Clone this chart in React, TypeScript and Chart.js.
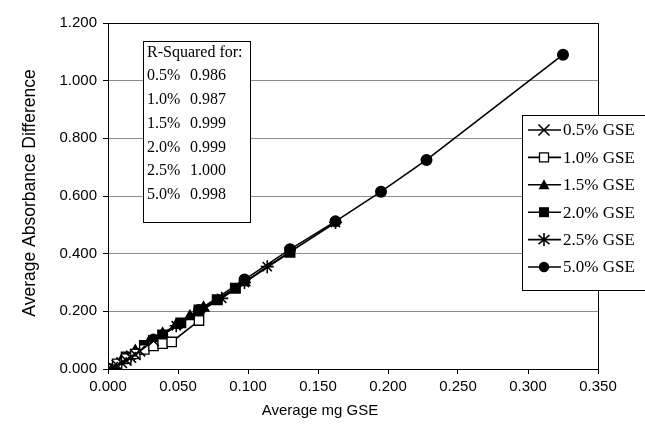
import React, { useEffect, useRef } from 'react';
import { Chart, registerables } from 'chart.js';

Chart.register(...registerables);

// ---- Data ----
const seriesLabels = ['0.5% GSE', '1.0% GSE', '1.5% GSE', '2.0% GSE', '2.5% GSE', '5.0% GSE'];
const seriesMarkers = ['crossRot', 'rectOpen', 'triangle', 'rect', 'star', 'circle'];

const x05 = [0, 0.00325, 0.0065, 0.00975, 0.013, 0.01625, 0.0195, 0.02275, 0.0325];
const y05 = [0, 0.006, 0.013, 0.022, 0.030, 0.040, 0.050, 0.062, 0.098];

const x10 = [0, 0.0065, 0.013, 0.0195, 0.026, 0.0325, 0.039, 0.0455, 0.065];
const y10 = [0, 0.018, 0.036, 0.052, 0.068, 0.080, 0.088, 0.094, 0.168];

const x15 = [0, 0.00975, 0.0195, 0.02925, 0.039, 0.04875, 0.0585, 0.06825, 0.0975];
const y15 = [0, 0.030, 0.062, 0.092, 0.122, 0.152, 0.182, 0.212, 0.300];

const x20 = [0, 0.013, 0.026, 0.039, 0.052, 0.065, 0.078, 0.091, 0.13];
const y20 = [0, 0.042, 0.082, 0.118, 0.160, 0.205, 0.240, 0.280, 0.405];

const x25 = [0, 0.01625, 0.0325, 0.04875, 0.065, 0.08125, 0.0975, 0.11375, 0.1625];
const y25 = [0, 0.048, 0.098, 0.150, 0.198, 0.245, 0.300, 0.355, 0.508];

const x50 = [0, 0.0325, 0.065, 0.0975, 0.13, 0.1625, 0.195, 0.2275, 0.325];
const y50 = [0, 0.102, 0.205, 0.310, 0.415, 0.512, 0.615, 0.725, 1.09];

const seriesX = [x05, x10, x15, x20, x25, x50];
const seriesY = [y05, y10, y15, y20, y25, y50];

const rSquaredTitle = 'R-Squared for:';
const rSquaredLabels = ['0.5%', '1.0%', '1.5%', '2.0%', '2.5%', '5.0%'];
const rSquaredValues = ['0.986', '0.987', '0.999', '0.999', '1.000', '0.998'];

const xAxisTitle = 'Average mg GSE';
const yAxisTitle = 'Average Absorbance Difference';

const SANS = '"Liberation Sans", Arial, sans-serif';
const SERIF = '"Liberation Serif", "Times New Roman", serif';

// ---- Drawing helpers ----
function drawMarker(ctx: CanvasRenderingContext2D, style: string, x: number, y: number) {
  ctx.save();
  ctx.strokeStyle = '#000';
  ctx.fillStyle = '#000';
  ctx.lineWidth = 1.6;
  ctx.beginPath();
  switch (style) {
    case 'crossRot':
      ctx.moveTo(x - 5.5, y - 5.5); ctx.lineTo(x + 5.5, y + 5.5);
      ctx.moveTo(x + 5.5, y - 5.5); ctx.lineTo(x - 5.5, y + 5.5);
      ctx.stroke();
      break;
    case 'rectOpen':
      ctx.fillStyle = '#fff';
      ctx.fillRect(x - 4.5, y - 4.5, 9, 9);
      ctx.lineWidth = 1.3;
      ctx.strokeRect(x - 4.5, y - 4.5, 9, 9);
      break;
    case 'triangle':
      ctx.moveTo(x, y - 5.5); ctx.lineTo(x + 5.5, y + 4.5); ctx.lineTo(x - 5.5, y + 4.5); ctx.closePath();
      ctx.fill();
      break;
    case 'rect':
      ctx.fillRect(x - 5, y - 5, 10, 10);
      break;
    case 'star':
      ctx.moveTo(x, y - 6.5); ctx.lineTo(x, y + 6.5);
      ctx.moveTo(x - 5.5, y - 4.5); ctx.lineTo(x + 5.5, y + 4.5);
      ctx.moveTo(x + 5.5, y - 4.5); ctx.lineTo(x - 5.5, y + 4.5);
      ctx.stroke();
      break;
    case 'circle':
      ctx.arc(x, y, 5.2, 0, Math.PI * 2);
      ctx.fill();
      break;
  }
  ctx.restore();
}

const overlayPlugin = {
  id: 'overlay',
  afterDatasetsDraw(chart: any) {
    const ctx: CanvasRenderingContext2D = chart.ctx;
    const ca = chart.chartArea;
    ctx.save();
    // plot border
    ctx.strokeStyle = '#000';
    ctx.lineWidth = 1;
    ctx.strokeRect(Math.round(ca.left) + 0.5, Math.round(ca.top) + 0.5, Math.round(ca.right - ca.left), Math.round(ca.bottom - ca.top));

    // axis titles
    ctx.fillStyle = '#000';
    ctx.textAlign = 'center';
    ctx.textBaseline = 'middle';
    ctx.font = `15px ${SANS}`;
    ctx.fillText(xAxisTitle, 320, 411);
    ctx.save();
    ctx.translate(30, 193);
    ctx.rotate(-Math.PI / 2);
    ctx.font = `17.5px ${SANS}`;
    ctx.fillText(yAxisTitle, 0, 0);
    ctx.restore();

    // R-squared box
    ctx.fillStyle = '#fff';
    ctx.fillRect(143.5, 41.5, 107, 181);
    ctx.strokeRect(143.5, 41.5, 107, 181);
    ctx.fillStyle = '#000';
    ctx.font = `16px ${SERIF}`;
    ctx.textBaseline = 'middle';
    ctx.textAlign = 'left';
    ctx.fillText(rSquaredTitle, 147, 53);
    rSquaredLabels.forEach((lab, i) => {
      const y = 76 + i * 23.8;
      ctx.fillText(lab, 147, y);
      ctx.fillText(rSquaredValues[i], 190, y);
    });

    // Legend
    ctx.fillStyle = '#fff';
    ctx.fillRect(522.5, 115.5, 140, 175);
    ctx.strokeRect(522.5, 115.5, 140, 175);
    ctx.font = `17px ${SERIF}`;
    seriesLabels.forEach((lab, i) => {
      const y = 130 + i * 27.4;
      ctx.strokeStyle = '#000';
      ctx.lineWidth = 1.6;
      ctx.beginPath();
      ctx.moveTo(528, y);
      ctx.lineTo(561, y);
      ctx.stroke();
      drawMarker(ctx, seriesMarkers[i], 544, y);
      ctx.fillStyle = '#000';
      ctx.fillText(lab, 563, y + 1);
    });
    ctx.restore();
  },
};

export default function App() {
  const canvasRef = useRef<HTMLCanvasElement | null>(null);

  useEffect(() => {
    const canvas = canvasRef.current;
    if (!canvas) return;

    const pointStyleFor = (m: string) => (m === 'rectOpen' ? 'rect' : m);

    const datasets = seriesLabels.map((label, i) => {
      const m = seriesMarkers[i];
      const radius = m === 'circle' ? 5.2 : m === 'rect' || m === 'rectOpen' ? 6.6 : m === 'crossRot' ? 7.5 : m === 'star' ? 6.5 : 6;
      return {
        label,
        data: seriesX[i].map((x, j) => ({ x, y: seriesY[i][j] })),
        showLine: true,
        borderColor: '#000',
        borderWidth: 1.6,
        pointStyle: pointStyleFor(m),
        pointRadius: radius,
        pointBorderColor: '#000',
        pointBorderWidth: m === 'rectOpen' ? 1.3 : 1.6,
        pointBackgroundColor: m === 'rectOpen' ? '#fff' : '#000',
        fill: false,
      };
    });

    const chart = new Chart(canvas, {
      type: 'scatter',
      data: { datasets },
      options: {
        animation: false,
        responsive: false,
        maintainAspectRatio: false,
        layout: { padding: { left: 0, top: 23, right: 47, bottom: 0 } },
        plugins: {
          legend: { display: false },
          tooltip: { enabled: false },
          title: { display: false },
        },
        scales: {
          x: {
            type: 'linear',
            min: 0,
            max: 0.35,
            border: { display: false },
            grid: { drawOnChartArea: false, drawTicks: true, tickLength: 5, tickColor: '#000' },
            ticks: {
              stepSize: 0.05,
              color: '#000',
              padding: 4,
              font: { family: SANS, size: 15 },
              callback: (v: any) => Number(v).toFixed(3),
            },
            title: { display: false },
            afterFit: (s: any) => { s.height = 61; },
          },
          y: {
            type: 'linear',
            min: 0,
            max: 1.2,
            border: { display: false },
            grid: { color: '#8c8c8c', lineWidth: 1, drawTicks: true, tickLength: 5, tickColor: '#000' },
            ticks: {
              stepSize: 0.2,
              color: '#000',
              padding: 6,
              font: { family: SANS, size: 15 },
              callback: (v: any) => Number(v).toFixed(3),
            },
            title: { display: false },
            afterFit: (s: any) => { s.width = 108; },
          },
        },
      },
      plugins: [overlayPlugin],
    });

    return () => chart.destroy();
  }, []);

  return (
    <div style={{ position: 'fixed', left: 0, top: 0, width: 645, height: 430, background: '#fff' }}>
      <canvas ref={canvasRef} width={645} height={430} style={{ display: 'block', width: 645, height: 430 }} />
    </div>
  );
}
